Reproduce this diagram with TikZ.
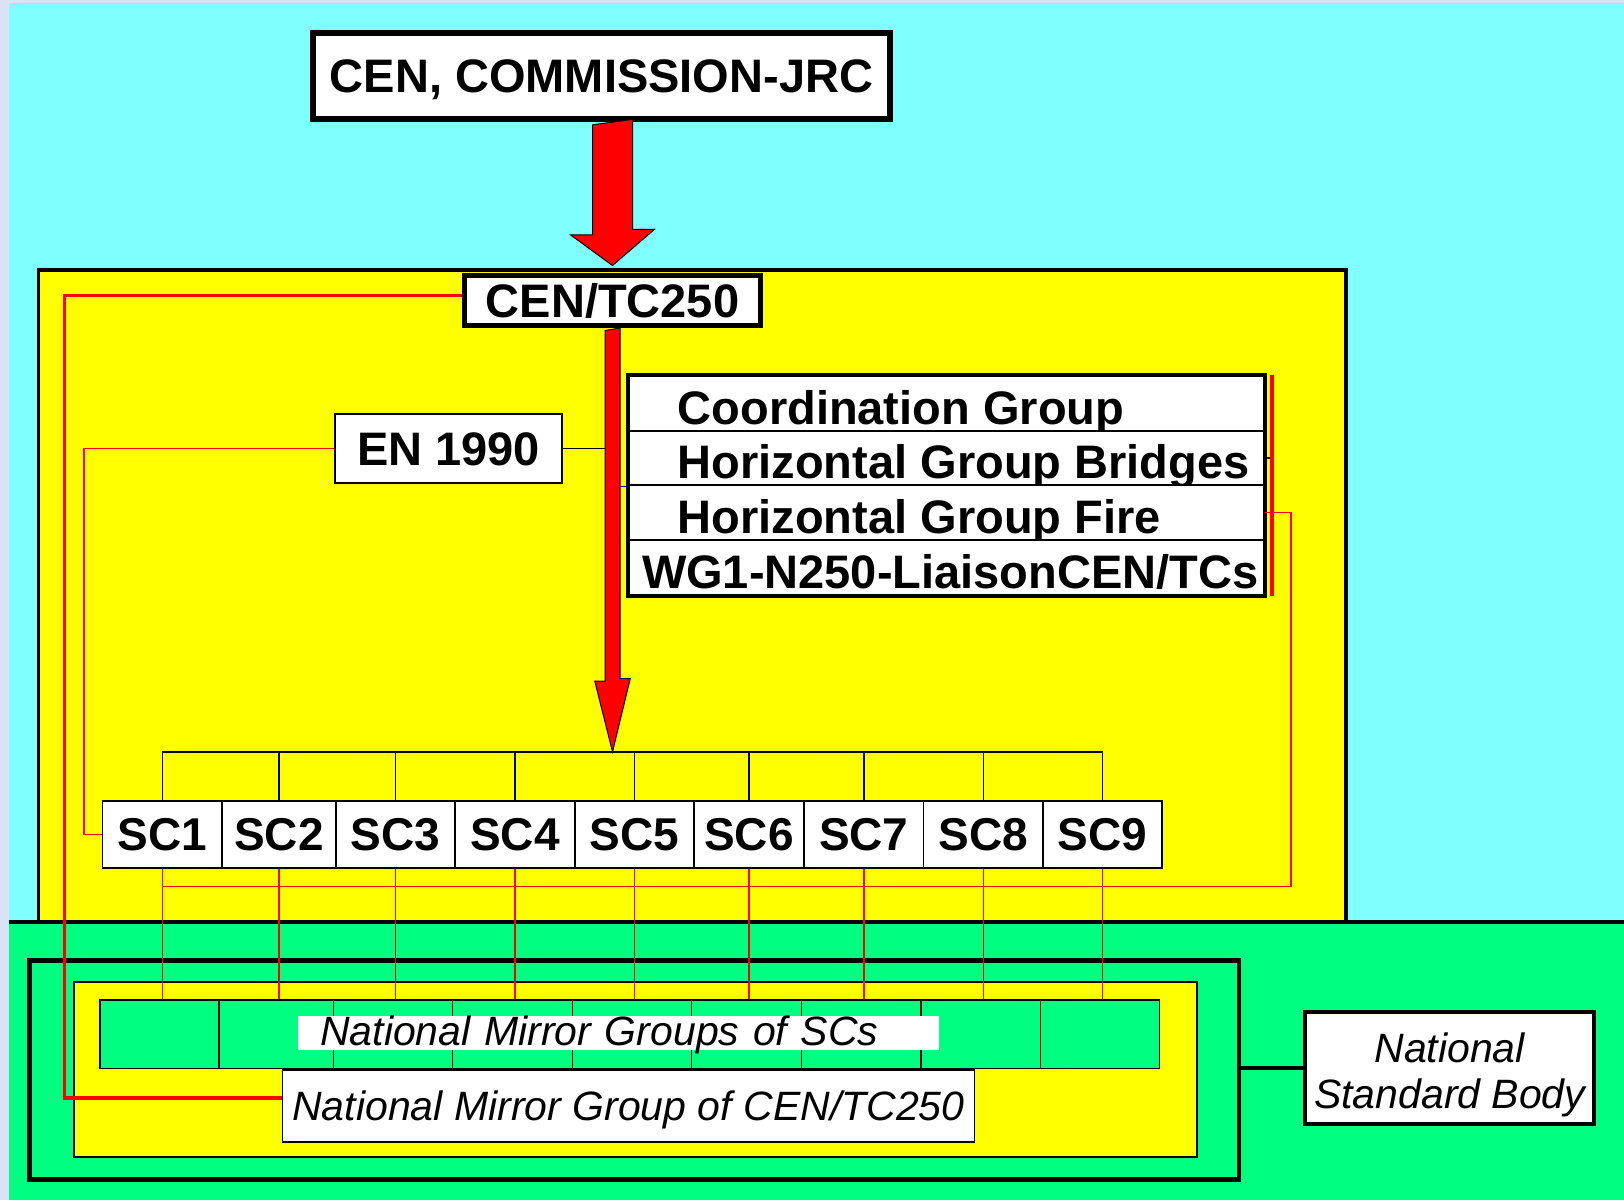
\documentclass[tikz,border=0pt]{standalone}
\usepackage{fontspec}
\setmainfont{Liberation Sans}
\usetikzlibrary{calc}

\definecolor{slidecyan}{RGB}{128,255,255}
\definecolor{slideyellow}{RGB}{255,255,0}
\definecolor{slidegreen}{RGB}{0,255,128}
\definecolor{slideedge}{RGB}{218,226,246}

\begin{document}
\begin{tikzpicture}
[x=1pt,y=-1pt,
  boxdecorate/.style={shape=rectangle,draw,fill=white,inner sep=0pt,line width=1.5pt,
    text height=33pt,text depth=0pt,font={\fontsize{47}{56}\selectfont\bfseries}},
  thickdecorate/.style={boxdecorate,line width=5pt},
  scdecorate/.style={boxdecorate,minimum height=67pt,font={\fontsize{46}{55}\selectfont\bfseries}},
  rowdecorate/.style={boxdecorate,line width=2pt,minimum width=635pt,minimum height=54.8pt},
  rowtext/.style={anchor=base west,inner sep=0pt,font={\fontsize{47}{56}\selectfont\bfseries}},
  celldecorate/.style={shape=rectangle,draw,fill=slidegreen,line width=1.5pt,minimum height=68.3pt},
  nationaldecorate/.style={boxdecorate,text height=29pt,font={\fontsize{41}{46}\selectfont\itshape}},
  nsbdecorate/.style={shape=rectangle,draw,fill=white,inner sep=0pt,line width=4pt,align=center,
    font={\fontsize{41}{46.3}\selectfont\itshape}},
  redline/.style={-,red,line width=1.5pt},
  thickredline/.style={-,red,line width=3.5pt},
  busline/.style={-,black,line width=1.5pt},
  arrowdecorate/.style={fill=red,draw=black,line width=1pt}]
\useasboundingbox (0,0) rectangle (1624,1200);
%% slide background
\fill[slideedge] (0,0) rectangle (1624,1200);
\fill[slidecyan] (9,3) rectangle (1624,922);
\fill[slidegreen] (9,922) rectangle (1624,1200);
\draw[line width=3.5pt,fill=slideyellow] (38.5,270) rectangle (1346,922);
\draw[line width=3.5pt] (9,922) -- (1624,922);
%% national frame
\node (natframe) at (634.25,1070) [shape=rectangle,draw,line width=4.5pt,
  minimum width=1209.5pt,minimum height=219pt] {};
\draw[line width=2pt,fill=slideyellow] (74.2,981.7) rectangle (1197.3,1157.3);
%% top boxes
\node (cen) at (601.5,76) [thickdecorate,line width=6pt,minimum width=577pt,
  minimum height=85.7pt] {CEN, COMMISSION-JRC};
\node (tc) at (612.5,300.5) [thickdecorate,minimum width=296pt,minimum height=50pt] {CEN/TC250};
\node (en) at (448.5,448.5) [boxdecorate,line width=2pt,minimum width=227pt,
  minimum height=69pt] {EN 1990};
%% groups beside the stem
\foreach \rowname/\y/\tx/\rowlabel in {
  cg1/403.1/677.5/{Coordination Group}, cg2/457.9/677.5/{Horizontal Group Bridges},
  cg3/512.7/677.5/{Horizontal Group Fire}, cg4/567.5/641.8/{WG1-N250-LiaisonCEN/TCs}}
{
  \node (\rowname) at (946.5,\y) [rowdecorate] {};
  \node [rowtext] at (\tx,\y+21) {\rowlabel};
}
\draw[line width=4pt] (cg1.north west) rectangle (cg4.south east);
%% subcommittees and their national mirror cells
\foreach \scnum/\x/\w in {1/162.3/119.2, 2/279/114.1, 3/395.5/119, 4/515/120,
  5/634.5/119, 6/749/110, 7/863.75/119.5, 8/983.25/119.5, 9/1102.5/119}
{
  \node (sc\scnum) at (\x,834.3) [scdecorate,minimum width=\w pt] {SC\scnum};
  \node (ng\scnum) at (\x-2.7,1034.2) [celldecorate,minimum width=\w pt] {};
}
\node (ngsc) at (298,1033) [anchor=west,fill=white,inner xsep=22pt,inner ysep=1pt,
  text width=597pt,text height=28pt,text depth=4pt,align=left,
  font={\fontsize{41}{46}\selectfont\itshape}] {National Mirror Groups of SCs};
\node (nmg) at (628.45,1105.9) [nationaldecorate,minimum width=692pt,
  minimum height=71.7pt] {National Mirror Group of CEN/TC250};
\node (nsb) at (1449.7,1068) [nsbdecorate,minimum width=288.6pt,
  minimum height=112pt] {\rule{0pt}{44pt}National\\Standard Body};
\coordinate (bus) at (612.5,751.8);
%% connectors
\draw[busline] (en.east) -- (en.east -| tc.south);
\draw[busline] (cg2.south west) -- (cg2.south west -| tc.south);
\draw[busline] (cg2.east) -- ++(7,0);
\draw[line width=4pt] (natframe.east |- nsb.west) -- (nsb.west);
\foreach \scnum in {1,...,9}
{
  \draw[busline] (sc\scnum.north) |- (bus);
  \draw[redline] (sc\scnum.south) -- (sc\scnum.south |- ng\scnum.north);
}
\draw[thickredline] ($(tc.west)+(0,-5)$) -- ++(-397.5,0) |- ($(nmg.west)+(0,-8)$);
\draw[redline] (en.west) -- ++(-250,0) |- (sc1.west);
\draw[thickredline,line width=4.5pt] ($(cg1.north east)+(7,0)$) -- ($(cg4.south east)+(7,0)$);
\draw[redline] (cg3.east) -- ++(26,0) |- ($(sc1.south)+(0,18)$);
%% arrows
\filldraw[arrowdecorate] ($(cen.south -| tc.north)+(-20,3)$) -- ++(0,110) -- ++(-22,0)
  -- ($(tc.north)+(0,-7.5)$) -- ++(42,-36.15) -- ++(-22,0) -- ++(0,-110) -- cycle;
\filldraw[arrowdecorate] ($(tc.south)+(-7.5,2.5)$) -- ++(0,350.6) -- ++(-10.25,0)
  -- (bus) -- ++(17.75,-73.2) -- ++(-10.25,0) -- ++(0,-350.6) -- cycle;
\end{tikzpicture}
\end{document}
